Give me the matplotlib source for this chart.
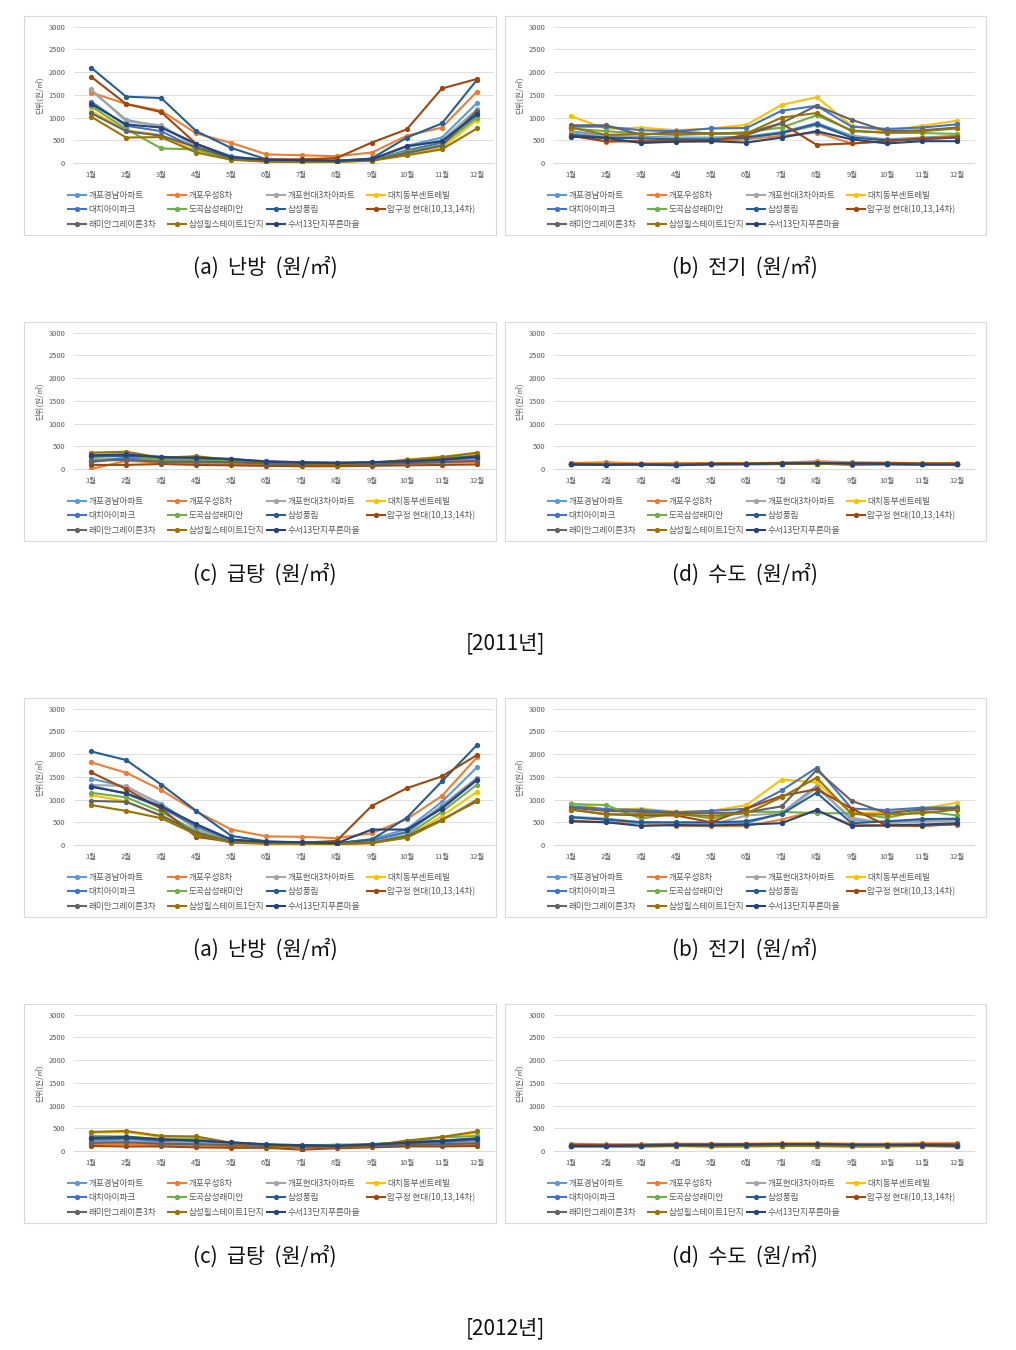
import matplotlib.pyplot as plt
from matplotlib.patches import Rectangle
from matplotlib.legend import Legend

plt.rcParams['font.family'] = ['Noto Sans CJK KR', 'DejaVu Sans']

months = ['1월', '2월', '3월', '4월', '5월', '6월', '7월', '8월', '9월', '10월', '11월', '12월']
apartments = ['개포경남아파트', '개포우성8차', '개포현대3차아파트', '대치동부센트레빌',
              '대치아이파크', '도곡삼성래미안', '삼성풍림', '압구정 현대(10,13,14차)',
              '래미안그레이튼3차', '삼성힐스테이트1단지', '수서13단지푸른마을']
colors = ['#5B9BD5', '#ED7D31', '#A5A5A5', '#FFC000', '#4472C4', '#70AD47',
          '#255E91', '#9E480E', '#636363', '#997300', '#264478']

# 2011 난방
heat_2011 = [
    [1600, 950, 800, 420, 150, 60, 50, 40, 80, 380, 560, 1320],
    [1550, 1300, 1150, 650, 440, 190, 170, 150, 230, 600, 780, 1570],
    [1620, 920, 830, 350, 120, 60, 50, 50, 90, 350, 500, 1180],
    [1150, 720, 620, 250, 80, 30, 20, 20, 50, 200, 330, 950],
    [1350, 820, 700, 320, 100, 40, 30, 30, 60, 280, 450, 1050],
    [1250, 750, 320, 300, 90, 40, 30, 30, 60, 250, 400, 1000],
    [2100, 1460, 1430, 700, 330, 80, 70, 50, 100, 560, 870, 1830],
    [1900, 1300, 1120, 420, 120, 80, 80, 110, 450, 740, 1640, 1850],
    [1100, 700, 600, 350, 100, 50, 40, 40, 60, 220, 380, 1150],
    [1020, 560, 570, 230, 70, 30, 30, 30, 50, 170, 300, 760],
    [1300, 850, 780, 420, 130, 70, 60, 50, 80, 370, 480, 1080],
]
# 2011 전기
elec_2011 = [
    [700, 600, 580, 560, 560, 580, 680, 880, 600, 520, 560, 600],
    [600, 470, 480, 480, 480, 520, 600, 670, 430, 480, 540, 580],
    [650, 580, 560, 540, 540, 550, 650, 830, 580, 500, 540, 560],
    [1030, 750, 780, 720, 760, 840, 1280, 1450, 820, 700, 820, 930],
    [800, 800, 720, 700, 760, 770, 1150, 1260, 800, 750, 780, 850],
    [760, 700, 650, 620, 640, 680, 780, 1050, 720, 660, 660, 640],
    [620, 560, 540, 520, 520, 560, 660, 860, 560, 500, 520, 560],
    [600, 480, 480, 480, 480, 620, 870, 400, 430, 480, 540, 570],
    [830, 830, 620, 690, 650, 650, 880, 1260, 950, 700, 720, 780],
    [780, 620, 640, 630, 650, 650, 1000, 1100, 700, 670, 700, 760],
    [580, 550, 440, 470, 480, 450, 560, 700, 520, 430, 480, 480],
]
# 2011 급탕
hot_2011 = [
    [200, 200, 170, 170, 150, 130, 110, 100, 110, 150, 170, 220],
    [0, 180, 140, 130, 110, 90, 80, 80, 90, 120, 140, 150],
    [220, 230, 180, 180, 170, 170, 150, 140, 130, 150, 170, 200],
    [340, 350, 240, 270, 200, 140, 110, 100, 120, 210, 270, 340],
    [150, 250, 220, 210, 190, 150, 130, 120, 130, 170, 200, 250],
    [260, 290, 200, 200, 170, 130, 110, 100, 120, 180, 230, 300],
    [290, 290, 270, 240, 220, 170, 150, 140, 150, 180, 220, 280],
    [90, 90, 110, 90, 80, 70, 60, 60, 70, 80, 90, 100],
    [180, 200, 160, 160, 150, 120, 100, 90, 100, 130, 150, 180],
    [360, 380, 250, 280, 200, 150, 120, 110, 130, 200, 260, 360],
    [300, 320, 260, 250, 220, 160, 140, 130, 150, 170, 200, 270],
]
# 2011 수도
water_2011 = [
    [120, 110, 110, 110, 120, 120, 130, 140, 130, 120, 120, 120],
    [130, 150, 120, 130, 130, 130, 140, 170, 150, 140, 130, 130],
    [110, 110, 100, 100, 110, 110, 120, 130, 120, 110, 110, 110],
    [120, 120, 110, 110, 120, 120, 130, 150, 140, 130, 120, 120],
    [110, 100, 100, 100, 110, 110, 120, 130, 130, 120, 110, 110],
    [100, 100, 100, 90, 100, 110, 110, 120, 110, 110, 100, 100],
    [110, 100, 100, 90, 110, 110, 120, 130, 120, 120, 110, 110],
    [120, 110, 110, 110, 120, 120, 130, 140, 130, 130, 120, 120],
    [100, 100, 100, 100, 110, 110, 110, 120, 120, 110, 100, 100],
    [100, 90, 100, 90, 100, 100, 110, 120, 90, 100, 100, 100],
    [100, 90, 100, 80, 110, 110, 120, 130, 120, 110, 100, 100],
]
# 2012 난방
heat_2012 = [
    [1460, 1280, 900, 400, 110, 60, 50, 40, 130, 350, 950, 1710],
    [1820, 1590, 1210, 740, 340, 190, 180, 150, 260, 570, 1080, 1930],
    [1320, 1300, 870, 350, 100, 60, 50, 40, 100, 300, 870, 1480],
    [1100, 960, 640, 250, 60, 30, 30, 20, 40, 180, 640, 1170],
    [1300, 1130, 820, 420, 100, 60, 50, 40, 100, 280, 830, 1450],
    [1150, 1050, 730, 300, 80, 40, 40, 30, 60, 220, 730, 1330],
    [2060, 1870, 1330, 750, 200, 80, 60, 40, 120, 600, 1400, 2200],
    [1600, 1230, 800, 180, 70, 50, 50, 90, 860, 1250, 1510, 1980],
    [970, 950, 650, 270, 70, 40, 40, 30, 50, 190, 560, 960],
    [880, 750, 590, 230, 50, 30, 30, 20, 40, 160, 540, 1000],
    [1280, 1140, 850, 460, 120, 70, 60, 40, 340, 340, 800, 1430],
]
# 2012 전기
elec_2012 = [
    [620, 580, 500, 480, 470, 480, 700, 1300, 550, 500, 530, 560],
    [540, 500, 480, 420, 420, 420, 560, 760, 450, 430, 430, 450],
    [600, 560, 490, 470, 450, 650, 700, 1250, 600, 480, 510, 540],
    [920, 780, 800, 730, 750, 880, 1440, 1380, 700, 720, 800, 930],
    [850, 790, 770, 720, 750, 800, 1200, 1700, 800, 770, 820, 830],
    [900, 880, 580, 700, 580, 730, 730, 700, 700, 600, 750, 650],
    [610, 560, 500, 500, 500, 520, 680, 1150, 480, 520, 570, 580],
    [780, 680, 650, 650, 500, 800, 1080, 1230, 800, 430, 420, 460],
    [820, 750, 730, 700, 700, 720, 850, 1650, 970, 700, 780, 800],
    [780, 670, 680, 670, 640, 700, 1050, 1480, 680, 670, 700, 780],
    [520, 500, 420, 440, 430, 450, 480, 770, 420, 430, 450, 480],
]
# 2012 급탕
hot_2012 = [
    [260, 200, 180, 170, 150, 120, 100, 100, 110, 140, 170, 220],
    [150, 150, 130, 120, 110, 100, 80, 80, 90, 120, 130, 140],
    [200, 220, 180, 160, 140, 120, 100, 90, 110, 130, 150, 200],
    [400, 420, 310, 300, 170, 110, 90, 90, 110, 220, 300, 400],
    [250, 270, 220, 240, 170, 130, 110, 100, 130, 170, 200, 250],
    [330, 320, 260, 260, 170, 130, 120, 140, 150, 200, 300, 330],
    [280, 290, 250, 220, 190, 150, 130, 120, 150, 190, 230, 280],
    [110, 100, 100, 80, 70, 70, 30, 60, 80, 100, 100, 110],
    [180, 190, 160, 150, 130, 110, 90, 90, 100, 130, 150, 170],
    [420, 440, 330, 320, 180, 120, 100, 90, 120, 230, 310, 430],
    [290, 310, 260, 230, 190, 140, 120, 110, 140, 180, 220, 270],
]
# 2012 수도
water_2012 = [
    [110, 110, 110, 120, 120, 120, 130, 130, 120, 120, 120, 120],
    [160, 150, 150, 160, 160, 160, 170, 170, 160, 160, 170, 170],
    [120, 120, 120, 130, 130, 130, 140, 140, 130, 130, 130, 130],
    [140, 130, 130, 150, 150, 150, 160, 160, 150, 150, 150, 150],
    [120, 110, 120, 130, 130, 130, 140, 140, 130, 130, 130, 130],
    [100, 100, 100, 110, 100, 110, 110, 110, 100, 110, 110, 100],
    [110, 110, 110, 120, 120, 120, 130, 130, 120, 120, 120, 120],
    [140, 130, 130, 150, 150, 150, 150, 150, 140, 140, 150, 150],
    [110, 110, 110, 120, 110, 110, 120, 120, 110, 110, 120, 110],
    [100, 100, 100, 110, 100, 100, 110, 110, 100, 100, 110, 100],
    [110, 110, 120, 130, 130, 140, 150, 150, 140, 140, 130, 120],
]

W, H = 1016, 1350
fig = plt.figure(figsize=(W / 100, H / 100), dpi=100)
fig.patch.set_facecolor('white')


def fx(x):
    return x / W


def fy(y):
    return 1 - y / H


def draw_panel(box_left, box_w, plot_left, box_top, data):
    fig.add_artist(Rectangle((fx(box_left), fy(box_top + 219)), box_w / W, 219 / H,
                             transform=fig.transFigure, fill=False,
                             edgecolor='#d9d9d9', lw=0.8))
    ax = fig.add_axes([fx(plot_left), fy(box_top + 147), 421 / W, 136.3 / H])
    for i, (name, c) in enumerate(zip(apartments, colors)):
        ax.plot(months, data[i], color=c, lw=1.5, marker='o', ms=2.8,
                label=name, zorder=3 + i)
    ax.set_xlim(-0.5, 11.5)
    ax.set_ylim(0, 3000)
    ax.set_yticks(range(0, 3001, 500))
    ax.grid(axis='y', color='#d9d9d9', lw=0.6)
    ax.set_axisbelow(True)
    for s in ['top', 'right', 'left']:
        ax.spines[s].set_visible(False)
    ax.spines['bottom'].set_color('#d9d9d9')
    ax.tick_params(length=0, labelsize=5.4, colors='#595959')
    ax.tick_params(axis='y', pad=6)
    ax.tick_params(axis='x', pad=6)
    ax.set_ylabel('단위(원/㎡)', fontsize=5.6, color='#595959')
    ax.yaxis.set_label_coords(-0.07, 0.5)

    # legend laid out row by row in four columns, as in the spreadsheet chart
    handles, labels = ax.get_legend_handles_labels()
    cols = [[0, 4, 8], [1, 5, 9], [2, 6, 10], [3, 7]]
    for k, idx in enumerate(cols):
        leg = Legend(ax, [handles[j] for j in idx], [labels[j] for j in idx],
                     loc='upper left',
                     bbox_to_anchor=(fx(plot_left - 5.5 + 99.5 * k), fy(box_top + 175)),
                     bbox_transform=fig.transFigure, frameon=False, fontsize=6.2,
                     handlelength=2.1, handletextpad=0.3, borderpad=0,
                     borderaxespad=0, labelspacing=0.62, labelcolor='#595959')
        ax.add_artist(leg)
    return ax


panels = [
    (16, heat_2011, elec_2011),
    (322, hot_2011, water_2011),
    (698, heat_2012, elec_2012),
    (1004, hot_2012, water_2012),
]
for top, left_data, right_data in panels:
    draw_panel(24, 472, 73.5, top, left_data)
    draw_panel(505, 481, 553.5, top, right_data)

captions = [
    (268, '(a)  난방  (원/㎡)', '(b)  전기  (원/㎡)'),
    (575, '(c)  급탕  (원/㎡)', '(d)  수도  (원/㎡)'),
    (950, '(a)  난방  (원/㎡)', '(b)  전기  (원/㎡)'),
    (1257, '(c)  급탕  (원/㎡)', '(d)  수도  (원/㎡)'),
]
for y, left_txt, right_txt in captions:
    fig.text(fx(265), fy(y), left_txt, ha='center', va='center', fontsize=15, color='#111111')
    fig.text(fx(745), fy(y), right_txt, ha='center', va='center', fontsize=15, color='#111111')

fig.text(fx(505), fy(643), '[2011년]', ha='center', va='center', fontsize=15, color='#111111')
fig.text(fx(505), fy(1328), '[2012년]', ha='center', va='center', fontsize=15, color='#111111')

fig.savefig('out.png', dpi=100)
